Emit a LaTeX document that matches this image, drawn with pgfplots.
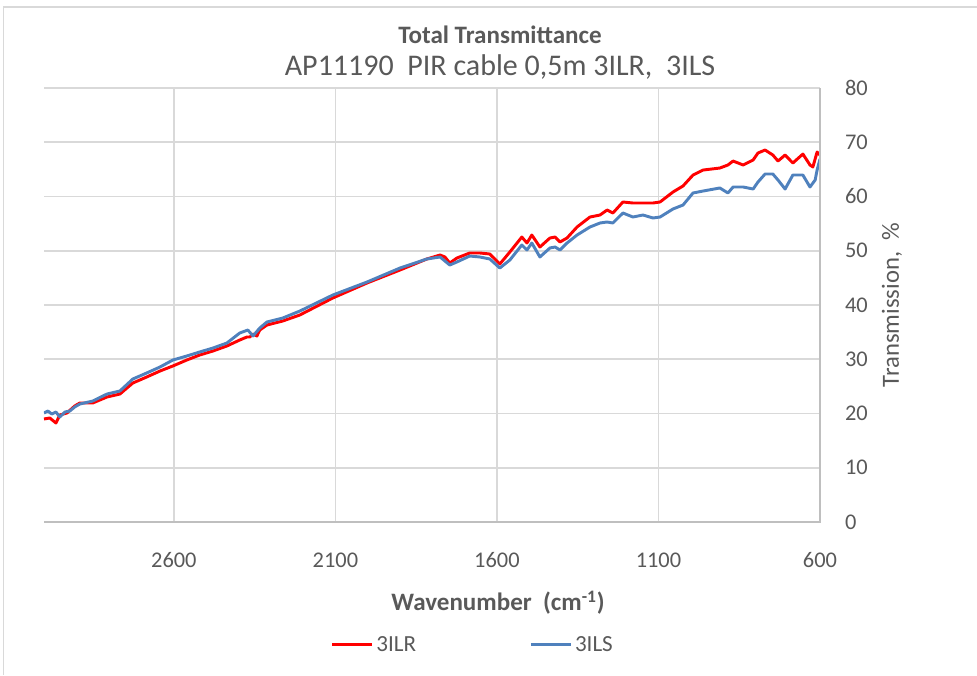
\documentclass[border=0pt]{standalone}
\usepackage{fontspec}
\setmainfont{Carlito}
\usepackage{pgfplots}
\pgfplotsset{compat=1.18}
\usepackage{pgfplotstable}
\definecolor{txt}{HTML}{595959}
\definecolor{gridc}{HTML}{D9D9D9}
\definecolor{axl}{HTML}{BFBFBF}
\definecolor{lred}{HTML}{FF0000}
\definecolor{lblue}{HTML}{4F81BD}

\pgfplotstableread{
x y
3002 18.99
2984 19.17
2965 18.25
2953 19.72
2931 20.09
2907 21.38
2891 21.94
2851 21.94
2807 23.04
2767 23.59
2727 25.62
2684 26.73
2643 27.83
2603 28.76
2560 29.86
2520 30.78
2479 31.52
2436 32.44
2396 33.55
2374 34.10
2365 34.10
2355 34.65
2343 34.29
2334 35.39
2312 36.31
2263 37.05
2210 38.16
2108 41.29
2002 44.06
1900 46.45
1817 48.48
1776 49.22
1761 48.85
1746 47.74
1724 48.66
1684 49.59
1653 49.59
1622 49.40
1591 47.56
1560 49.77
1523 52.53
1507 51.43
1492 52.90
1467 50.69
1436 52.35
1420 52.53
1405 51.61
1383 52.35
1352 54.38
1312 56.22
1281 56.59
1259 57.51
1241 56.96
1210 58.99
1179 58.80
1148 58.80
1117 58.80
1095 58.99
1055 60.83
1024 61.94
993 63.96
962 64.88
910 65.25
885 65.81
869 66.54
838 65.81
807 66.73
792 68.02
770 68.57
746 67.65
730 66.54
708 67.65
684 66.17
653 67.83
631 65.81
622 65.44
609 68.20
600 67.65
}\redtab

\pgfplotstableread{
x y
3002 20.09
2990 20.46
2978 19.91
2965 20.28
2953 19.35
2937 20.28
2922 20.46
2907 21.20
2891 21.75
2851 22.30
2807 23.59
2767 24.15
2727 26.36
2684 27.47
2643 28.57
2603 29.86
2560 30.60
2520 31.34
2479 32.07
2436 32.99
2396 34.84
2371 35.39
2355 34.29
2334 35.76
2312 36.87
2263 37.60
2210 38.89
2108 41.84
2002 44.24
1900 46.82
1817 48.48
1776 48.85
1746 47.37
1724 47.93
1684 49.03
1653 48.85
1622 48.48
1591 46.82
1560 48.29
1523 51.06
1507 50.14
1492 51.43
1467 48.85
1436 50.51
1420 50.69
1405 50.14
1383 51.43
1352 52.90
1312 54.38
1281 55.12
1259 55.30
1241 55.12
1210 56.96
1179 56.22
1148 56.59
1117 56.04
1095 56.22
1055 57.70
1024 58.43
993 60.65
962 61.01
910 61.57
885 60.65
869 61.75
838 61.75
807 61.38
792 62.67
770 64.15
746 64.15
730 63.04
708 61.38
684 63.96
653 63.96
631 61.75
615 63.04
609 64.88
600 66.91
}\bluetab

\begin{document}
\begin{tikzpicture}[x=0.75pt,y=0.75pt]
\path[use as bounding box] (0,0) rectangle (977,675);
\draw[gridc, line width=1.2pt] (3.5,0) -- (3.5,668) -- (977,668);
\begin{axis}[
  name=ax,
  at={(33pt,114.75pt)}, anchor=south west,
  scale only axis, width=582pt, height=325.5pt,
  x dir=reverse,
  xmin=600, xmax=3002, ymin=0, ymax=80,
  ytick={0,10,...,80},
  xtick={600,1100,1600,2100,2600},
  xticklabel={\pgfmathprintnumber[assume math mode=true,1000 sep={},fixed,precision=0]{\tick}},
  yticklabel={\makebox[0pt][l]{\hspace*{18.75pt}\pgfmathprintnumber[assume math mode=true,1000 sep={},fixed,precision=0]{\tick}}},
  grid=major,
  major grid style={gridc, line width=1.2pt},
  axis line style={draw=none},
  major tick length=0pt,
  yticklabel pos=right,
  tick label style={font=\fontsize{16.8}{19}\selectfont, text=txt, inner sep=0pt},
  xticklabel style={anchor=center, yshift=-28.5pt},
  yticklabel style={anchor=center},
  legend columns=2,
  legend style={at={(0.553,-0.283)}, anchor=center, draw=none, fill=none,
    font=\fontsize{17.3}{19}\selectfont, text=txt, inner sep=0pt,
    /tikz/every even column/.append style={column sep=83pt}},
  legend cell align=left,
  legend image code/.code={\draw[#1, line width=2.2pt] (0pt,0pt) -- (30pt,0pt);},
]
\addplot[lred, line width=2.2pt, line join=round] table {\redtab};
\addlegendentry{3ILR}
\addplot[lblue, line width=2.2pt, line join=round] table {\bluetab};
\addlegendentry{3ILS}
\end{axis}
\draw[axl, line width=1.2pt] (ax.south west) -- (ax.south east) -- (ax.north east);
\node[text=txt, font=\fontsize{18.8}{22}\selectfont\bfseries] at (500,640) {Total Transmittance};
\node[text=txt, font=\fontsize{22.5}{26}\selectfont] at (500,608) {AP11190\ \ PIR cable 0,5m 3ILR,\ \ 3ILS};
\node[text=txt, font=\fontsize{18.8}{22}\selectfont\bfseries] at (498,72) {Wavenumber\ \ (cm\textsuperscript{-1})};
\node[text=txt, font=\fontsize{18.5}{21}\selectfont, rotate=90] at (892,370) {Transmission,\ \ \%};
\end{tikzpicture}
\end{document}
